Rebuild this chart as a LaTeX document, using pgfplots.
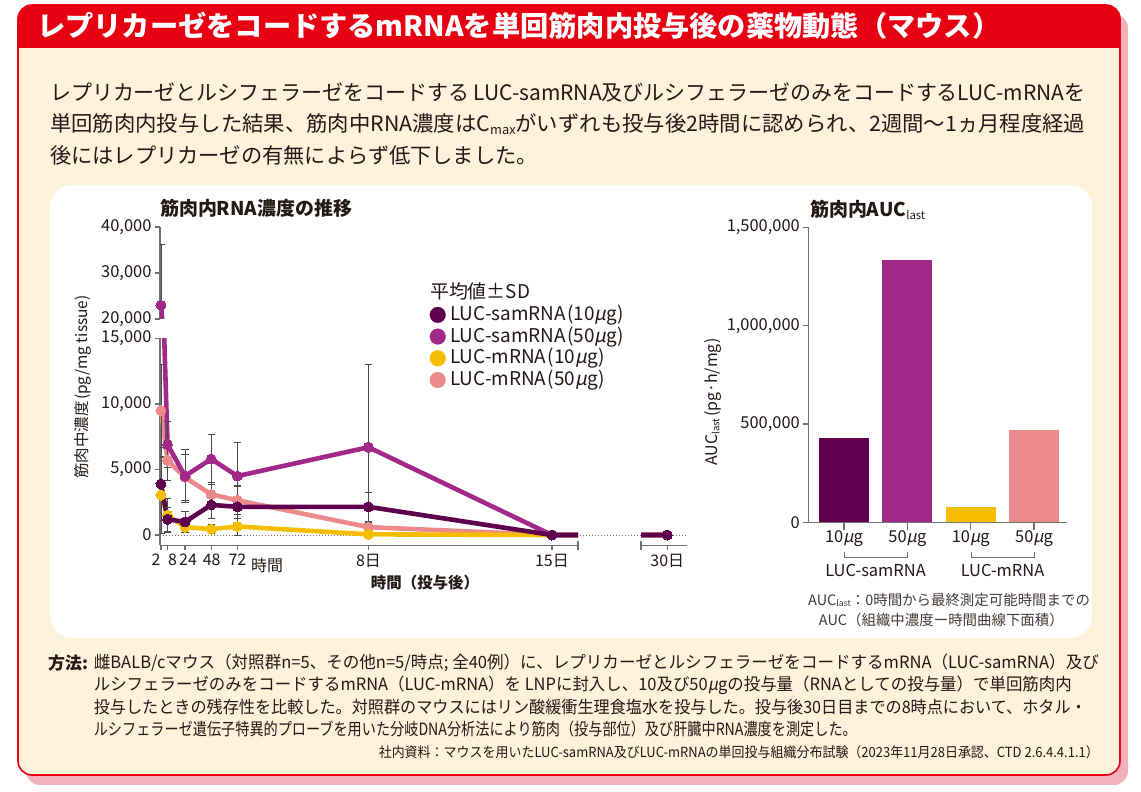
\documentclass[border=0pt]{standalone}
\usepackage{fontspec}
\usepackage{graphicx}
\usepackage{pgfplots}
\usepackage{pgfplotstable}
\pgfplotsset{compat=1.18}
\setmainfont{Noto Sans CJK JP}
\newfontfamily\slfont[FakeSlant=0.2]{Noto Sans CJK JP}
\newcommand{\mug}{{\slfont μ}g}
\newcommand{\fs}[1]{\fontsize{#1}{#1}\selectfont}
\newcommand{\fit}[2]{\resizebox{#1}{\height}{#2}}
\newcommand{\low}[1]{\raisebox{-0.12em}{\scalebox{0.6}{#1}}}
\newcommand{\po}{\kern1.5bp(}
\definecolor{cred}{HTML}{E60012}
\definecolor{ccream}{HTML}{FEF2DA}
\definecolor{cshadow}{HTML}{F2B1BA}
\definecolor{ctext}{HTML}{231815}
\definecolor{cdp}{HTML}{5E004F}
\definecolor{cmag}{HTML}{A2298A}
\definecolor{cyel}{HTML}{F7BD00}
\definecolor{cpink}{HTML}{EC8A8B}
\definecolor{caxis}{HTML}{707070}
\definecolor{cerr}{HTML}{4A4A4A}

% muscle RNA concentration (pg/mg tissue): time (h), mean, SD
\pgfplotstableread{
x y e
2 3900 2800
8 1200 900
24 1000 800
48 2300 1000
72 2150 1600
192 2150 1100
360 0 0
720 0 0
}\samTen
\pgfplotstableread{
x y e
2 23000 13300
8 6900 1750
24 4500 2000
48 5800 1900
72 4500 2550
192 6700 6300
360 0 0
720 0 0
}\samFifty
\pgfplotstableread{
x y e
2 3050 2900
8 1500 1300
24 600 400
48 450 350
72 650 650
192 50 250
360 0 0
720 0 0
}\mTen
\pgfplotstableread{
x y e
2 9500 3500
8 5700 1500
24 4400 1750
48 3100 900
72 2650 1050
192 600 350
360 0 0
720 0 0
}\mFifty

\pgfplotsset{
  base/.style={scale only axis, anchor=south west,
    axis line style={caxis, line width=1.3bp},
    tick style={caxis, line width=1.3bp},
    major tick length=5bp, tick align=outside,
    tick label style={font=\fs{16.5}, text=ctext},
    scaled ticks=false},
  ln/.style={#1, line width=4.6bp, no marks, forget plot, line join=round},
  mk/.style={only marks, mark=*, mark size=5bp, mark options={fill=#1, draw=#1, line width=0pt}, forget plot},
  eb/.style={draw=none, mark=none, forget plot,
    /pgfplots/error bars/y dir=#1, /pgfplots/error bars/y explicit, /pgfplots/error bars/error mark=-,
    /pgfplots/error bars/error bar style={draw=cerr, line width=0.8bp},
    /pgfplots/error bars/error mark options={rotate=90, draw=cerr, mark size=3.7bp, line width=0.8bp}},
}

\begin{document}
\begin{tikzpicture}[x=1bp,y=1bp]
\useasboundingbox (0,0) rectangle (1141,792);
% card, shadow, title bar
\fill[cshadow, rounded corners=14bp] (26,7) rectangle (1128,778);
\begin{scope}
\clip[rounded corners=14bp] (18,17) rectangle (1120,787);
\fill[ccream] (18,17) rectangle (1120,787);
\fill[cred] (18,744) rectangle (1120,787);
\end{scope}
\draw[cred, line width=1.6bp, rounded corners=14bp] (18,17) rectangle (1120,787);
\node[anchor=west, inner sep=0pt, text=white] at (37,766)
  {\fit{963bp}{\fs{28}\bfseries レプリカーゼをコードするmRNAを単回筋肉内投与後の薬物動態（マウス）}};
% lead text
\begin{scope}[every node/.style={anchor=west, inner sep=0pt, text=ctext}]
\node at (50,700) {\fit{1035bp}{\fs{21.3}レプリカーゼとルシフェラーゼをコードする LUC-samRNA及びルシフェラーゼのみをコードするLUC-mRNAを}};
\node at (50,668) {\fit{1035bp}{\fs{21.3}単回筋肉内投与した結果、筋肉中RNA濃度はC\low{max}がいずれも投与後2時間に認められ、2週間〜1ヵ月程度経過}};
\node at (50,637) {\fs{21.3}後にはレプリカーゼの有無によらず低下しました。};
\end{scope}
% white panel
\fill[white, rounded corners=22bp] (50,154) rectangle (1092,607);

% ---------- line chart ----------
\node[anchor=west, inner sep=0pt, text=ctext] at (160,584) {\fs{19}\bfseries 筋肉内RNA濃度の推移};
\node[rotate=90, inner sep=0pt, text=ctext] at (83,405) {\fs{15.5}筋肉中濃度\po pg/mg tissue)};
\draw[caxis, line width=0.8bp, dash pattern=on 1bp off 2bp] (160,257) -- (687,257);

% lower-left part (0--15,000 ; 2 h -- 15 days)
\begin{axis}[base, at={(159.9bp,246.5bp)}, width=418.2bp, height=207bp,
  xmin=1, xmax=384, ymin=-800, ymax=15000,
  axis x line*=bottom, axis y line*=left,
  xtick={2,8,24,48,72,192,360},
  xticklabels={{\llap{2\kern0.5bp}},{\rlap{\kern0.5bp 8}},{\hspace*{6bp}24},{\hspace*{1bp}48},72,8日,15日},
  xticklabel style={font=\fs{16}},
  ytick={0,5000,10000,15000}, yticklabels={0,{5,000},{10,000},{15,000}},
  extra x ticks={384}, extra x tick labels={},
  extra x tick style={major tick length=9bp, tick align=center},
  legend image code/.code={\fill[#1] (7.8bp,0bp) circle[radius=7.8bp];},
  legend cell align=left,
  legend style={at={(axis description cs:0.6447,1.2609)}, anchor=north west,
    draw=none, fill=none, font=\fs{19}, text=ctext, inner sep=0pt,
    row sep=4.7bp, column sep=4.6bp,
    nodes={inner sep=0pt, text height=14bp, text depth=3bp}},
]
\addlegendimage{empty legend}\addlegendentry{\hspace*{-20.2bp}平均値±SD}
\addlegendimage{cdp}\addlegendentry{LUC-samRNA\po 10\mug)}
\addlegendimage{cmag}\addlegendentry{LUC-samRNA\po 50\mug)}
\addlegendimage{cyel}\addlegendentry{LUC-mRNA\po 10\mug)}
\addlegendimage{cpink}\addlegendentry{LUC-mRNA\po 50\mug)}
\addplot[ln=cpink] table[x=x,y=y] {\mFifty};
\addplot[mk=cpink, restrict x to domain=0:384, restrict y to domain=-1000:15000] table[x=x,y=y] {\mFifty};
\addplot[ln=cyel] table[x=x,y=y] {\mTen};
\addplot[mk=cyel, restrict x to domain=0:384, restrict y to domain=-1000:15000] table[x=x,y=y] {\mTen};
\addplot[ln=cmag] table[x=x,y=y] {\samFifty};
\addplot[mk=cmag, restrict x to domain=0:384, restrict y to domain=-1000:15000] table[x=x,y=y] {\samFifty};
\addplot[ln=cdp] table[x=x,y=y] {\samTen};
\addplot[mk=cdp, restrict x to domain=0:384, restrict y to domain=-1000:15000] table[x=x,y=y] {\samTen};
\addplot[restrict x to domain=0:300, restrict y to domain=-1000:15000, eb=both] table[x=x,y=y,y error=e] {\mFifty};
\addplot[restrict x to domain=0:300, restrict y to domain=-1000:15000, eb=both] table[x=x,y=y,y error=e] {\mTen};
\addplot[restrict x to domain=0:300, restrict y to domain=-1000:15000, eb=both] table[x=x,y=y,y error=e] {\samFifty};
\addplot[restrict x to domain=0:300, restrict y to domain=-1000:15000, eb=both] table[x=x,y=y,y error=e] {\samTen};
\end{axis}

% upper-left part (20,000--40,000)
\begin{axis}[base, at={(159.9bp,473bp)}, width=418.2bp, height=92bp,
  xmin=1, xmax=384, ymin=20000, ymax=40000,
  axis x line=none, axis y line*=left, xtick=\empty,
  ytick={20000,30000,40000}, yticklabels={{20,000},{30,000},{40,000}}]
\addplot[ln=cmag] table[x=x,y=y] {\samFifty};
\addplot[mk=cmag, restrict y to domain=20000:40000] table[x=x,y=y] {\samFifty};
\addplot[restrict y to domain=20000:40000, eb=plus] table[x=x,y=y,y error=e] {\samFifty};
\end{axis}

% lower-right part (30 days)
\begin{axis}[base, at={(641bp,246.5bp)}, width=46bp, height=207bp,
  xmin=696, xmax=738, ymin=-800, ymax=15000,
  axis x line*=bottom, axis y line=none, ytick=\empty,
  xtick={720}, xticklabels={30日}, xticklabel style={font=\fs{16}},
  extra x ticks={696}, extra x tick labels={},
  extra x tick style={major tick length=9bp, tick align=center}]
\addplot[ln=cpink] table[x=x,y=y] {\mFifty};
\addplot[ln=cyel] table[x=x,y=y] {\mTen};
\addplot[ln=cmag] table[x=x,y=y] {\samFifty};
\addplot[ln=cdp] table[x=x,y=y] {\samTen};
\addplot[mk=cdp, restrict x to domain=696:738] table[x=x,y=y] {\samTen};
\end{axis}
\node[inner sep=0pt, text=ctext] at (267,227) {\fs{16}時間};
\node[inner sep=0pt, text=ctext] at (425,209) {\fs{15.5}\bfseries 時間（投与後）};

% ---------- bar chart ----------
\node[anchor=west, inner sep=0pt, text=ctext] at (810,582) {\fs{19}\bfseries 筋肉内AUC\low{\mdseries last}};
\node[rotate=90, inner sep=0pt, text=ctext] at (713,390) {\fs{16}AUC\low{last}\po pg·h/mg)};
\begin{axis}[base, at={(808.3bp,269.7bp)}, width=258.7bp, height=295bp,
  xmin=-0.564, xmax=3.52, ymin=0, ymax=1500000,
  axis x line*=bottom, axis y line*=left,
  xtick={0,1,2,3}, xticklabels={10\mug,50\mug,10\mug,50\mug},
  xtick style={/pgfplots/major tick length=8bp},
  ytick={0,500000,1000000,1500000}, yticklabels={0,{500,000},{1,000,000},{1,500,000}},
  ybar, bar width=50bp]
\addplot[fill=cdp, draw=none, bar shift=0pt] coordinates {(0,427000)};
\addplot[fill=cmag, draw=none, bar shift=0pt] coordinates {(1,1333000)};
\addplot[fill=cyel, draw=none, bar shift=0pt] coordinates {(2,76000)};
\addplot[fill=cpink, draw=none, bar shift=0pt] coordinates {(3,470000)};
\end{axis}
\draw[caxis, line width=1bp] (844,240) -- (844,234) -- (907,234) -- (907,240);
\draw[caxis, line width=1bp] (971,240) -- (971,234) -- (1034,234) -- (1034,240);
\node[inner sep=0pt, text=ctext] at (875.5,222) {\fs{16.5}LUC-samRNA};
\node[inner sep=0pt, text=ctext] at (1002.5,222) {\fs{16.5}LUC-mRNA};
\node[anchor=west, inner sep=0pt, text=ctext!85] at (808,192) {\fs{14.5}AUC\low{last}：0時間から最終測定可能時間までの};
\node[anchor=east, inner sep=0pt, text=ctext!85] at (1064,172) {\fs{14.5}AUC（組織中濃度ー時間曲線下面積）};

% ---------- methods ----------
\begin{scope}[every node/.style={anchor=west, inner sep=0pt, text=ctext}]
\node at (48,129) {\fs{17}\bfseries 方法:};
\node at (93.6,129) {\fit{1005bp}{\fs{17}雌BALB/cマウス（対照群n=5、その他n=5/時点; 全40例）に、レプリカーゼとルシフェラーゼをコードするmRNA（LUC-samRNA）及び}};
\node at (93.6,106.5) {\fit{978bp}{\fs{17}ルシフェラーゼのみをコードするmRNA（LUC-mRNA）を LNPに封入し、10及び50\mug の投与量（RNAとしての投与量）で単回筋肉内}};
\node at (93.6,84.5) {\fit{993bp}{\fs{17}投与したときの残存性を比較した。対照群のマウスにはリン酸緩衝生理食塩水を投与した。投与後30日目までの8時点において、ホタル・}};
\node at (93.6,62.5) {\fit{763bp}{\fs{17}ルシフェラーゼ遺伝子特異的プローブを用いた分岐DNA分析法により筋肉（投与部位）及び肝臓中RNA濃度を測定した。}};
\node[anchor=east] at (1099,40) {\fit{720bp}{\fs{14}社内資料：マウスを用いたLUC-samRNA及びLUC-mRNAの単回投与組織分布試験（2023年11月28日承認、CTD 2.6.4.4.1.1）}};
\end{scope}
\end{tikzpicture}
\end{document}
